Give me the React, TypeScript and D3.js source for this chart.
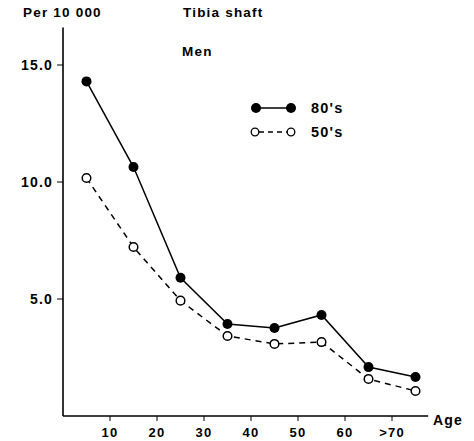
import React from 'react'
import * as d3 from 'd3'

const width = 474
const height = 441

// age group mid-points
const ages = [5, 15, 25, 35, 45, 55, 65, 75]
const values80s = [14.3, 10.64, 5.91, 3.93, 3.76, 4.32, 2.09, 1.67]
const values50s = [10.17, 7.22, 4.93, 3.42, 3.08, 3.16, 1.58, 1.07]
const xTicks = [10, 20, 30, 40, 50, 60, 70]
const xTickLabels = ['10', '20', '30', '40', '50', '60', '>70']
const yTicks = [5, 10, 15]

const font = {
  fontFamily: '"Liberation Sans", Arial, Helvetica, sans-serif',
  fontWeight: 700,
}
const wide = { ...font, letterSpacing: '1.2px' }

export default function App() {
  const x = d3.scaleLinear().domain([0, 10]).range([63, 110])
  const y = d3.scaleLinear().domain([0, 5]).range([416, 299])

  const line = d3
    .line<number>()
    .x((_, i) => x(ages[i]))
    .y((d) => y(d))

  const xEnd = x(77.7)
  const yTop = y(16.6)

  return (
    <svg
      width={width}
      height={height}
      style={{ position: 'absolute', left: 0, top: 0, background: '#fff' }}
    >
      <text x={23} y={17} fontSize={13.5} style={wide}>
        Per 10 000
      </text>
      <text x={183} y={17} fontSize={13.5} style={wide}>
        Tibia shaft
      </text>
      <text x={182} y={56} fontSize={13.5} style={wide}>
        Men
      </text>

      {/* axes */}
      <line x1={x(0)} x2={x(0)} y1={yTop} y2={y(0)} stroke="#000" strokeWidth={1.6} />
      <line x1={x(0)} x2={xEnd} y1={y(0)} y2={y(0)} stroke="#000" strokeWidth={1.6} />
      <text x={433} y={425} fontSize={14} style={wide}>
        Age
      </text>

      {yTicks.map((t) => (
        <g key={'y-' + t}>
          <line x1={x(0) - 6} x2={x(0)} y1={y(t)} y2={y(t)} stroke="#000" strokeWidth={1} />
          <text x={53} y={y(t)} dy="0.36em" textAnchor="end" fontSize={14} style={wide}>
            {d3.format('.1f')(t)}
          </text>
        </g>
      ))}

      {xTicks.map((t, i) => (
        <g key={'x-' + t}>
          <line x1={x(t)} x2={x(t)} y1={y(0)} y2={y(0) + 5} stroke="#000" strokeWidth={1} />
          <text x={x(t)} y={437} textAnchor="middle" fontSize={13} style={wide}>
            {xTickLabels[i]}
          </text>
        </g>
      ))}

      {/* series */}
      <path d={line(values80s) ?? ''} fill="none" stroke="#000" strokeWidth={1.5} />
      <path
        d={line(values50s) ?? ''}
        fill="none"
        stroke="#000"
        strokeWidth={1.5}
        strokeDasharray="6,5"
      />
      {values80s.map((v, i) => (
        <circle key={'a' + i} cx={x(ages[i])} cy={y(v)} r={5} fill="#000" />
      ))}
      {values50s.map((v, i) => (
        <circle
          key={'b' + i}
          cx={x(ages[i])}
          cy={y(v)}
          r={4.3}
          fill="#fff"
          stroke="#000"
          strokeWidth={1.5}
        />
      ))}

      {/* legend */}
      <line x1={256} x2={291} y1={108} y2={108} stroke="#000" strokeWidth={1.5} />
      <circle cx={256} cy={108} r={5} fill="#000" />
      <circle cx={291} cy={108} r={5} fill="#000" />
      <text x={311} y={108} dy="0.36em" fontSize={14.5} style={wide}>
        80's
      </text>
      <line
        x1={259}
        x2={287}
        y1={132}
        y2={132}
        stroke="#000"
        strokeWidth={1.3}
        strokeDasharray="5,4"
      />
      <circle cx={255} cy={132} r={3.8} fill="#fff" stroke="#000" strokeWidth={1.3} />
      <circle cx={291} cy={132} r={3.8} fill="#fff" stroke="#000" strokeWidth={1.3} />
      <text x={311} y={132} dy="0.36em" fontSize={14.5} style={wide}>
        50's
      </text>
    </svg>
  )
}
